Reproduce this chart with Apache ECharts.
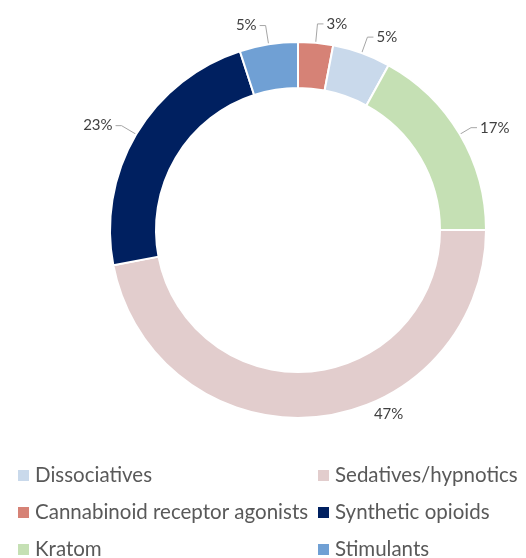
<!DOCTYPE html>
<html>
<head>
<meta charset="utf-8">
<script src="https://cdn.jsdelivr.net/npm/echarts@6/dist/echarts.min.js"></script>
<style>
  html, body { margin: 0; padding: 0; background: #ffffff; }
  #chart { width: 526px; height: 558px; }
</style>
</head>
<body>
<div id="chart"></div>
<script>
// Share of substances, clockwise from 12 o'clock
const categories = ['Cannabinoid receptor agonists', 'Dissociatives', 'Kratom', 'Sedatives/hypnotics', 'Synthetic opioids', 'Stimulants'];
const shares = [3, 5, 17, 47, 23, 5];
const colors = ['#D68276', '#C9D9EB', '#C5E0B4', '#E2CDCD', '#002060', '#70A0D4'];

// Legend layout: two columns
const legendLeft = ['Dissociatives', 'Cannabinoid receptor agonists', 'Kratom'];
const legendRight = ['Sedatives/hypnotics', 'Synthetic opioids', 'Stimulants'];

const FONT = 'Lato';

const ringData = categories.map((name, i) => ({
  name, value: shares[i], itemStyle: { color: colors[i] }
}));

// leader length per slice (top slices reach a little higher)
const leaderLength = [42, 40, 36, 36, 40, 42];

const labelData = categories.map((name, i) => ({
  name, value: shares[i],
  labelLine: { show: name !== 'Sedatives/hypnotics', length: leaderLength[i] }
}));

const chart = echarts.init(document.getElementById('chart'), null, { renderer: 'canvas' });

const legendCommon = {
  orient: 'vertical',
  icon: 'rect',
  itemWidth: 13,
  itemHeight: 13,
  itemGap: 16,
  padding: 0,
  height: 120,
  selectedMode: false,
  textStyle: { fontFamily: FONT, fontSize: 20.5, color: '#595959', lineHeight: 21 }
};

chart.setOption({
  backgroundColor: '#ffffff',
  animation: false,
  legend: [
    Object.assign({}, legendCommon, { left: 16, top: 465, data: legendLeft }),
    Object.assign({}, legendCommon, { left: 316, top: 465, data: legendRight })
  ],
  series: [
    {
      type: 'pie',
      center: [298, 230],
      radius: [142, 188],
      startAngle: 90,
      clockwise: true,
      avoidLabelOverlap: false,
      itemStyle: { borderColor: '#ffffff', borderWidth: 2 },
      label: { show: false },
      labelLine: { show: false },
      emphasis: { disabled: true },
      data: ringData
    },
    {
      // invisible pie sized to the middle of the ring, used only to carry labels
      type: 'pie',
      center: [298, 230],
      radius: [0, 165],
      startAngle: 90,
      clockwise: true,
      silent: true,
      legendHoverLink: false,
      avoidLabelOverlap: false,
      itemStyle: { color: 'rgba(0,0,0,0)' },
      emphasis: { disabled: true },
      label: {
        show: true,
        position: 'outside',
        formatter: '{c}%',
        fontFamily: FONT,
        fontSize: 15,
        color: '#404040',
        distanceToLabelLine: 3
      },
      labelLine: {
        show: true,
        length: 36,
        length2: 6,
        lineStyle: { color: '#A6A6A6', width: 1 }
      },
      // the large bottom slice carries its label off to the lower right, without a leader
      labelLayout: function (p) {
        if (p.dataIndex === 3) return { dx: 48, dy: -16 };
        return {};
      },
      data: labelData
    }
  ]
});
</script>
</body>
</html>
